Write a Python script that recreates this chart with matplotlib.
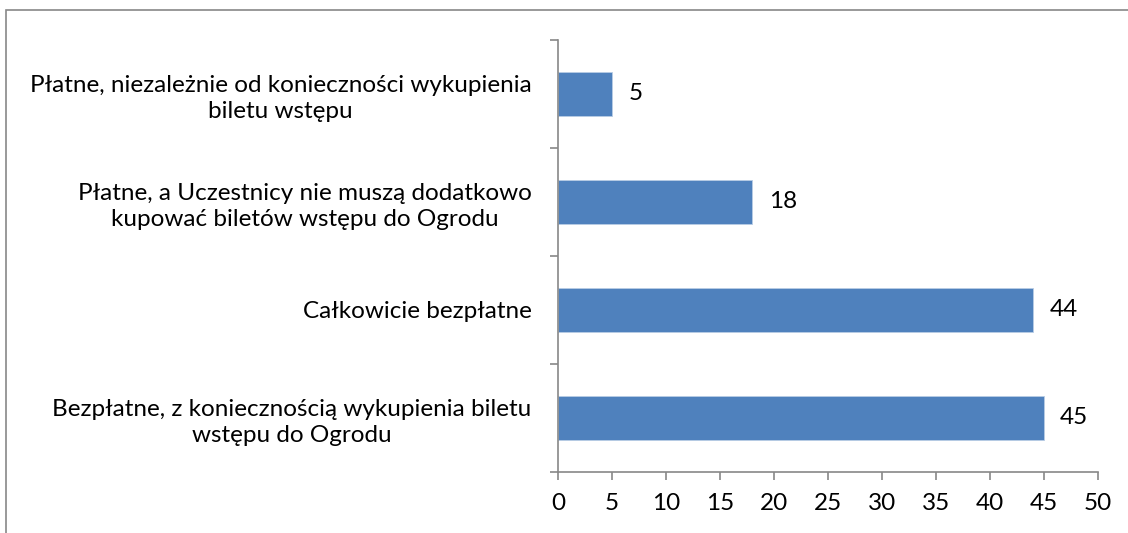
import matplotlib.pyplot as plt
from matplotlib.patches import Rectangle
import numpy as np

# data (bottom to top)
categories = [
    "Bezpłatne, z koniecznością wykupienia biletu\nwstępu do Ogrodu",
    "Całkowicie bezpłatne",
    "Płatne, a Uczestnicy nie muszą dodatkowo\nkupować biletów wstępu do Ogrodu",
    "Płatne, niezależnie od konieczności wykupienia\nbiletu wstępu",
]
values = [45, 44, 18, 5]
x_ticks = [0, 5, 10, 15, 20, 25, 30, 35, 40, 45, 50]

plt.rcParams['font.family'] = ['Lato', 'DejaVu Sans']
fs = 17.5

fig = plt.figure(figsize=(11.28, 5.33), dpi=100)
ax = fig.add_axes([558/1128, 1 - 472/533, 540/1128, 432/533])

# outer frame
fig.patches.append(Rectangle((6/1128, -0.1), 1.2, 1 - 10/533 + 0.1,
                             transform=fig.transFigure, fill=False,
                             edgecolor='#888888', linewidth=1.2))

pos = np.arange(len(categories))
ax.barh(pos, values, height=0.41, color='#4F81BD', edgecolor='#B9CDE5', linewidth=0.6)

for p, v in zip(pos, values):
    ax.text(v + 1.5, p, str(v), va='center', ha='left', fontsize=fs)

ax.set_xlim(0, 50)
ax.set_ylim(-0.5, len(categories) - 0.5)
ax.set_xticks(x_ticks)
ax.set_xticklabels([str(t) for t in x_ticks], fontsize=fs)

ax.set_yticks(pos)
ax.set_yticklabels(categories, fontsize=fs, linespacing=1.3)
for lbl in ax.get_yticklabels():
    lbl.set_multialignment('center')
ax.tick_params(axis='y', length=0, pad=19)
# tick marks between categories
ax.set_yticks(np.arange(-0.5, len(categories)), minor=True)
ax.tick_params(axis='y', which='minor', length=6, color='#888888', width=1.2)
ax.tick_params(axis='x', length=6, color='#888888', width=1.2, pad=9)

for s in ['top', 'right']:
    ax.spines[s].set_visible(False)
for s in ['left', 'bottom']:
    ax.spines[s].set_color('#888888')
    ax.spines[s].set_linewidth(1.2)

fig.savefig('out.png', dpi=100)
